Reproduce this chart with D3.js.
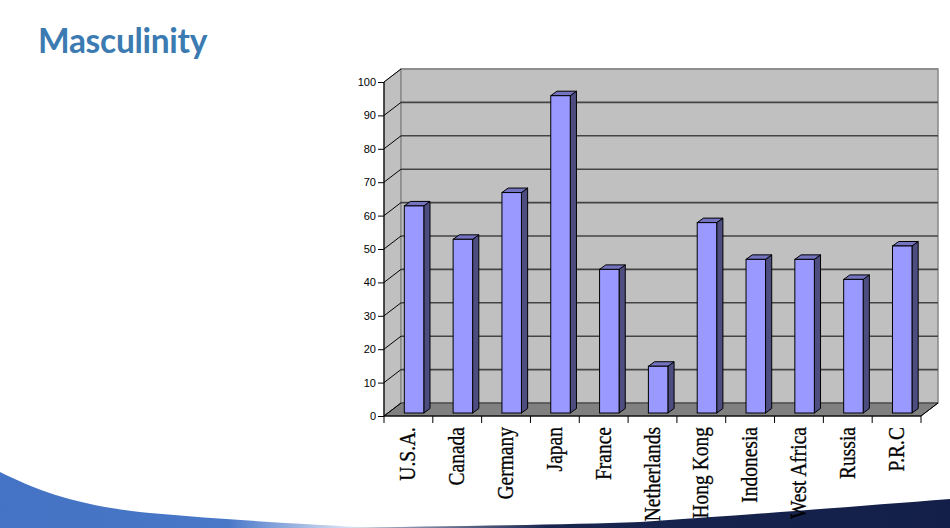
<!DOCTYPE html>
<html><head><meta charset="utf-8">
<script src="https://cdn.jsdelivr.net/npm/d3@7"></script>
<style>body{margin:0;background:#fff;overflow:hidden}svg{display:block}</style>
</head><body>
<svg id="c" width="950" height="528"></svg>
<script>
const title = "Masculinity";
const categories = ["U.S.A.","Canada","Germany","Japan","France","Netherlands","Hong Kong","Indonesia","West Africa","Russia","P.R.C"];
const values = [62,52,66,95,43,14,57,46,46,40,50];
const yTicks = [0,10,20,30,40,50,60,70,80,90,100];

const svg = d3.select("#c");
const defs = svg.append("defs");

// decorative bottom shapes
const g1 = defs.append("linearGradient").attr("id","bl").attr("x1","0").attr("x2","1").attr("y1","0").attr("y2","0");
g1.append("stop").attr("offset","0").attr("stop-color","#4472c4");
g1.append("stop").attr("offset","0.6").attr("stop-color","#4a78c8");
g1.append("stop").attr("offset","1").attr("stop-color","#ffffff");
svg.append("path").attr("d","M0,472 C40,492 80,506 150,513 C230,520 300,524 380,528 L0,528 Z").attr("fill","url(#bl)");
const g2 = defs.append("linearGradient").attr("id","nv").attr("x1","0").attr("x2","1").attr("y1","0").attr("y2","0");
g2.append("stop").attr("offset","0").attr("stop-color","#c8cfe0");
g2.append("stop").attr("offset","0.35").attr("stop-color","#18264f");
g2.append("stop").attr("offset","1").attr("stop-color","#131f48");
svg.append("path").attr("d","M330,528 C450,526 560,525 640,522 C760,514 860,506 950,499 L950,528 Z").attr("fill","url(#nv)");

// title
svg.append("text").attr("x",38).attr("y",53).text(title)
  .attr("font-family","Lato").attr("font-weight","bold").attr("font-size",33.5)
  .attr("fill","#3b7bb1").attr("letter-spacing","-0.3");

// geometry
const X0 = 384, X1 = 921, DX = 17, DY = -13;
const y = d3.scaleLinear().domain([0,100]).range([416,82]);
const x = d3.scaleBand().domain(categories).range([X0,X1]);
const bw = x.bandwidth();

const chart = svg.append("g");
// side wall
chart.append("path").attr("d",`M${X0},${y(0)}L${X0},${y(100)}L${X0+DX},${y(100)+DY}L${X0+DX},${y(0)+DY}Z`)
  .attr("fill","#c0c0c0").attr("stroke","#888").attr("stroke-width",1);
// back wall
chart.append("rect").attr("x",X0+DX).attr("y",y(100)+DY).attr("width",X1-X0).attr("height",y(0)-y(100))
  .attr("fill","#c0c0c0").attr("stroke","#888").attr("stroke-width",1.5);
// floor
chart.append("path").attr("d",`M${X0},${y(0)}L${X1},${y(0)}L${X1+DX},${y(0)+DY}L${X0+DX},${y(0)+DY}Z`)
  .attr("fill","#808080").attr("stroke","#333").attr("stroke-width",1);
// gridlines
yTicks.filter(t=>t>0).forEach(t=>{
  chart.append("line").attr("x1",X0+DX).attr("x2",X1+DX).attr("y1",y(t)+DY).attr("y2",y(t)+DY)
    .attr("stroke",t===100?"#888":"#444").attr("stroke-width",t===100?1.5:1.6);
});
yTicks.forEach(t=>{
  chart.append("line").attr("x1",X0).attr("y1",y(t)).attr("x2",X0+DX).attr("y2",y(t)+DY)
    .attr("stroke","#000").attr("stroke-width",1);
});
// bars
const bx = 20.3, bW = 19.5, fdy = -3, ddx = 6.2, ddy = -4.5;
const bars = chart.append("g");
categories.forEach((c,i)=>{
  const v = values[i];
  const xl = x(c)+bx, xr = xl+bW;
  const yb = y(0)+fdy, yt = y(v)+fdy;
  bars.append("path").attr("d",`M${xr},${yb}L${xr+ddx},${yb+ddy}L${xr+ddx},${yt+ddy}L${xr},${yt}Z`)
    .attr("fill","#4d4d80").attr("stroke","#000").attr("stroke-width",1).attr("stroke-linejoin","round");
  bars.append("path").attr("d",`M${xl},${yt}L${xl+ddx},${yt+ddy}L${xr+ddx},${yt+ddy}L${xr},${yt}Z`)
    .attr("fill","#7373bf").attr("stroke","#000").attr("stroke-width",1).attr("stroke-linejoin","round");
  bars.append("rect").attr("x",xl).attr("y",yt).attr("width",bW).attr("height",yb-yt)
    .attr("fill","#9999ff").attr("stroke","#000").attr("stroke-width",1);
});
// axes lines
chart.append("line").attr("x1",X0).attr("x2",X0).attr("y1",y(100)).attr("y2",y(0)).attr("stroke","#000").attr("stroke-width",1.2);
chart.append("line").attr("x1",X0).attr("x2",X1).attr("y1",y(0)).attr("y2",y(0)).attr("stroke","#000").attr("stroke-width",1.2);
chart.append("line").attr("x1",X1).attr("x2",X1+DX).attr("y1",y(0)).attr("y2",y(0)+DY).attr("stroke","#000").attr("stroke-width",1);

// y axis
const yAxis = d3.axisLeft(y).tickValues(yTicks).tickSize(6).tickPadding(2);
const ya = chart.append("g").attr("transform",`translate(${X0},0)`).call(yAxis);
ya.select(".domain").remove();
ya.selectAll("line").attr("stroke","#000");
ya.selectAll("text").attr("font-family","Liberation Sans, Arial, sans-serif").attr("font-size",11).attr("fill","#000");

// x axis ticks at band boundaries
const bounds = d3.range(categories.length+1).map(i=>X0+i*bw);
chart.selectAll(".xt").data(bounds).enter().append("line")
  .attr("x1",d=>d).attr("x2",d=>d).attr("y1",y(0)).attr("y2",y(0)+7).attr("stroke","#000").attr("stroke-width",1);
// category labels
chart.selectAll(".xl").data(categories).enter().append("text")
  .attr("transform",d=>`translate(${x(d)+bw/2+7},${427}) rotate(-90) scale(1,1.22)`)
  .attr("text-anchor","end")
  .attr("font-family","Liberation Serif, Times New Roman, serif").attr("font-size",19.5).attr("fill","#000")
  .attr("stroke","#000").attr("stroke-width",0.25)
  .text(d=>d);
</script>
</body></html>
